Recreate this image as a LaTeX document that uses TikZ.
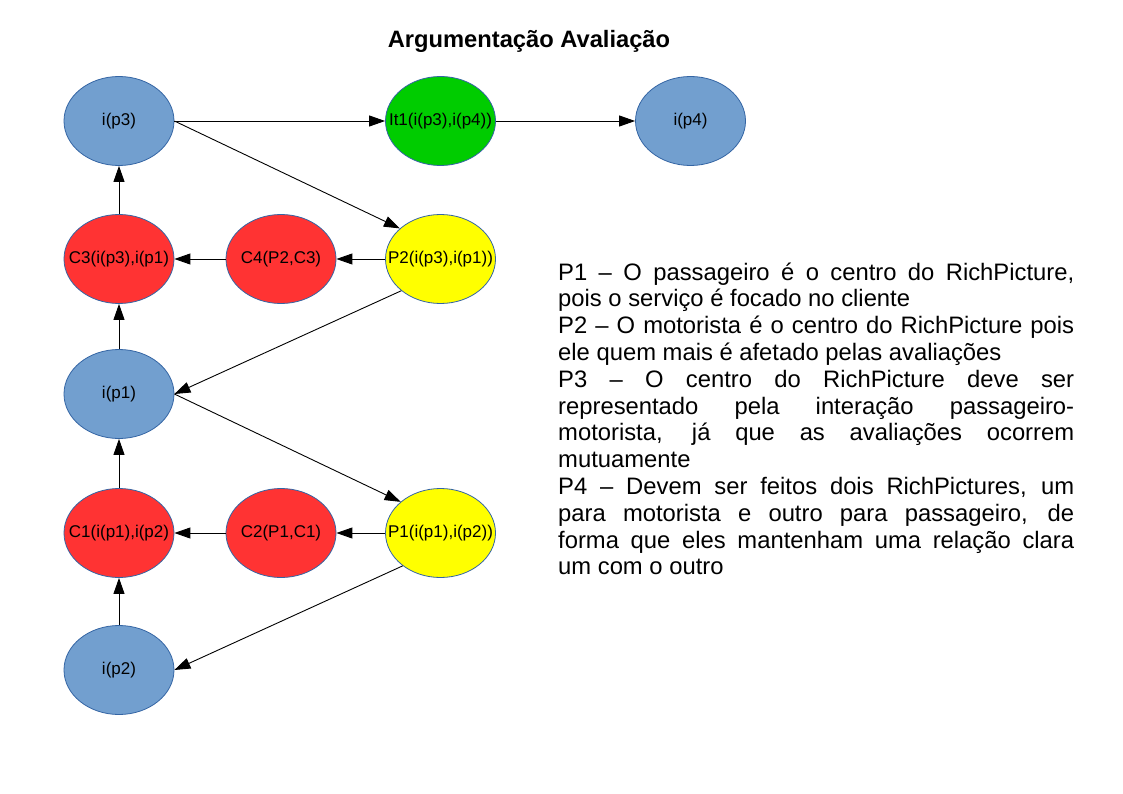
\documentclass[tikz,border=0pt]{standalone}
\usepackage{fontspec}
\setmainfont{Liberation Sans}
\usetikzlibrary{shapes.geometric,arrows.meta}
\definecolor{nblue}{HTML}{729FCF}
\definecolor{nborder}{HTML}{3465A4}
\definecolor{nred}{HTML}{FF3333}
\definecolor{ngreen}{HTML}{00CC00}
\definecolor{nyellow}{HTML}{FFFF00}
\begin{document}
\begin{tikzpicture}[x=1pt,y=-1pt,
  ell/.style={ellipse, draw=nborder, line width=0.8pt, minimum width=110pt, minimum height=89pt, inner sep=0pt, font=\fontsize{17}{20}\selectfont},
  bluenode/.style={ell, fill=nblue},
  rednode/.style={ell, fill=nred},
  greennode/.style={ell, fill=ngreen},
  yellownode/.style={ell, fill=nyellow},
  arr/.style={line width=0.9pt, -{Triangle[length=16pt,width=11pt]}}]
\fill[white] (0,0) rectangle (1123,794);
\useasboundingbox (0,0) rectangle (1123,794);
\node[anchor=base, inner sep=0pt, font=\fontsize{23.7}{27}\selectfont\bfseries] (title) at (529,48) {Argumentação Avaliação};
\node[bluenode] (ip3) at (119,121) {\makebox[0pt]{i(p3)}};
\node[greennode] (it1) at (440.5,121) {\makebox[0pt]{It1(i(p3),i(p4))}};
\node[bluenode] (ip4) at (690.5,121) {\makebox[0pt]{i(p4)}};
\node[rednode] (c3) at (119,259) {\makebox[0pt]{C3(i(p3),i(p1)}};
\node[rednode] (c4) at (281,259) {\makebox[0pt]{C4(P2,C3)}};
\node[yellownode] (p2) at (440.5,259) {\makebox[0pt]{P2(i(p3),i(p1))}};
\node[bluenode] (ip1) at (119,394) {\makebox[0pt]{i(p1)}};
\node[rednode] (c1) at (119,533) {\makebox[0pt]{C1(i(p1),i(p2)}};
\node[rednode] (c2) at (281,533) {\makebox[0pt]{C2(P1,C1)}};
\node[yellownode] (p1) at (440.5,533) {\makebox[0pt]{P1(i(p1),i(p2))}};
\node[bluenode] (ip2) at (119,670) {\makebox[0pt]{i(p2)}};
\draw[arr] (ip3) -- (it1);
\draw[arr] (it1) -- (ip4);
\draw[arr] (ip3.east) -- (p2.143);
\draw[arr] (p2) -- (c4);
\draw[arr] (c4) -- (c3);
\draw[arr] (c3) -- (ip3);
\draw[arr] (p2.219) -- (ip1.east);
\draw[arr] (ip1) -- (c3);
\draw[arr] (ip1.east) -- (p1.142);
\draw[arr] (p1) -- (c2);
\draw[arr] (c2) -- (c1);
\draw[arr] (c1) -- (ip1);
\draw[arr] (p1.221) -- (ip2.east);
\draw[arr] (ip2) -- (c1);
\node[anchor=base west, inner sep=0pt] (txt) at (558,280) {\parbox[t]{516pt}{\fontsize{23.8}{26.8}\selectfont\parindent=0pt\hyphenpenalty=10000\tolerance=10000\hbadness=10000
P1 – O passageiro é o centro do RichPicture,\linebreak pois o serviço é focado no cliente\par
P2 – O motorista é o centro do RichPicture pois\linebreak ele quem mais é afetado pelas avaliações\par
P3 – O centro do RichPicture deve ser\linebreak representado pela interação passageiro-\linebreak motorista, já que as avaliações ocorrem\linebreak mutuamente\par
P4 – Devem ser feitos dois RichPictures, um\linebreak para motorista e outro para passageiro, de\linebreak forma que eles mantenham uma relação clara\linebreak um com o outro}};
\end{tikzpicture}
\end{document}
